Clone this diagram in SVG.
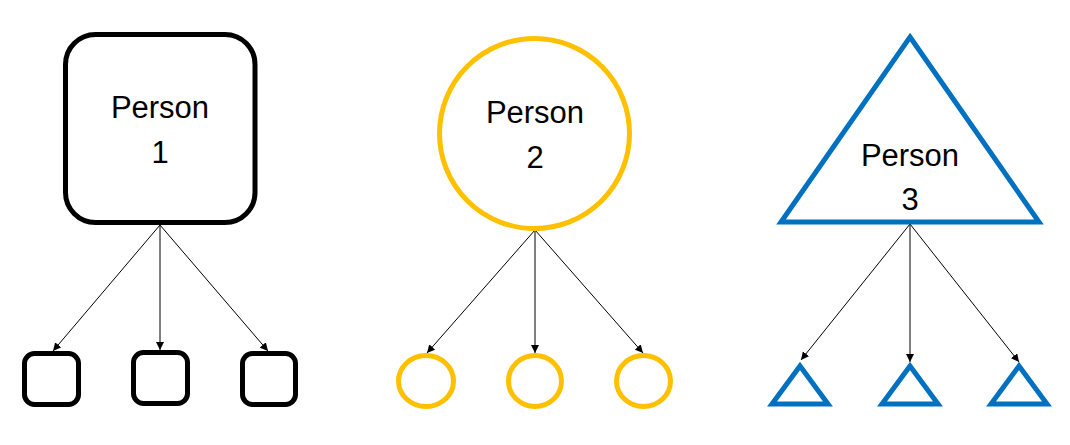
<svg xmlns="http://www.w3.org/2000/svg" width="1070" height="445" viewBox="0 0 1070 445">
<style>
.lbl{font-family:"Liberation Sans","Noto Sans",sans-serif;font-size:31px;fill:#000;text-anchor:middle}
.blk{fill:#fff;stroke:#000;stroke-width:5}
.yel{fill:#fff;stroke:#FFC000;stroke-width:5}
.blu{fill:#fff;stroke:#0070C0;stroke-width:5;stroke-linejoin:miter}
.con{stroke:#000;stroke-width:1;fill:none;marker-end:url(#ah)}
</style>
<defs>
<marker id="ah" markerUnits="userSpaceOnUse" markerWidth="8" markerHeight="8" viewBox="0 0 8 8" refX="8" refY="4" orient="auto">
<path d="M0,0 L8,4 L0,8 Z" fill="#000"/>
</marker>
</defs>
<rect width="1070" height="445" fill="#fff"/>
<g id="connectors">
<line class="con" x1="160" y1="225" x2="53" y2="351"/>
<line class="con" x1="160" y1="225" x2="160" y2="350"/>
<line class="con" x1="160" y1="225" x2="268" y2="351"/>
<line class="con" x1="535" y1="230" x2="427" y2="353"/>
<line class="con" x1="535" y1="230" x2="535" y2="353"/>
<line class="con" x1="535" y1="230" x2="643" y2="353"/>
<line class="con" x1="910" y1="224" x2="801" y2="360"/>
<line class="con" x1="910" y1="224" x2="910" y2="362"/>
<line class="con" x1="910" y1="224" x2="1019" y2="362"/>
</g>
<g id="person1">
<rect class="blk" x="65.5" y="34.5" width="189.5" height="188" rx="30"/>
<text class="lbl" x="160" y="118">Person</text>
<text class="lbl" x="160" y="163">1</text>
</g>
<g id="child1a"><rect class="blk" x="24.5" y="353.5" width="54" height="51" rx="10"/></g>
<g id="child1b"><rect class="blk" x="133.5" y="352.5" width="54" height="51" rx="10"/></g>
<g id="child1c"><rect class="blk" x="242.5" y="353.5" width="53" height="51" rx="10"/></g>
<g id="person2">
<circle class="yel" cx="534.5" cy="133.5" r="95"/>
<text class="lbl" x="535" y="123">Person</text>
<text class="lbl" x="535" y="168">2</text>
</g>
<g id="child2a"><ellipse class="yel" cx="426" cy="381" rx="27.5" ry="25.5"/></g>
<g id="child2b"><ellipse class="yel" cx="535" cy="381" rx="26.5" ry="25.5"/></g>
<g id="child2c"><ellipse class="yel" cx="643.5" cy="381" rx="27" ry="25.5"/></g>
<g id="person3">
<polygon class="blu" points="910,37 1039,222 781,222"/>
<text class="lbl" x="910" y="166">Person</text>
<text class="lbl" x="910" y="210">3</text>
</g>
<g id="child3a"><polygon class="blu" points="800,366 828,404 772,404"/></g>
<g id="child3b"><polygon class="blu" points="910,366 938,404 882,404"/></g>
<g id="child3c"><polygon class="blu" points="1019,366 1047,404 991,404"/></g>
</svg>
